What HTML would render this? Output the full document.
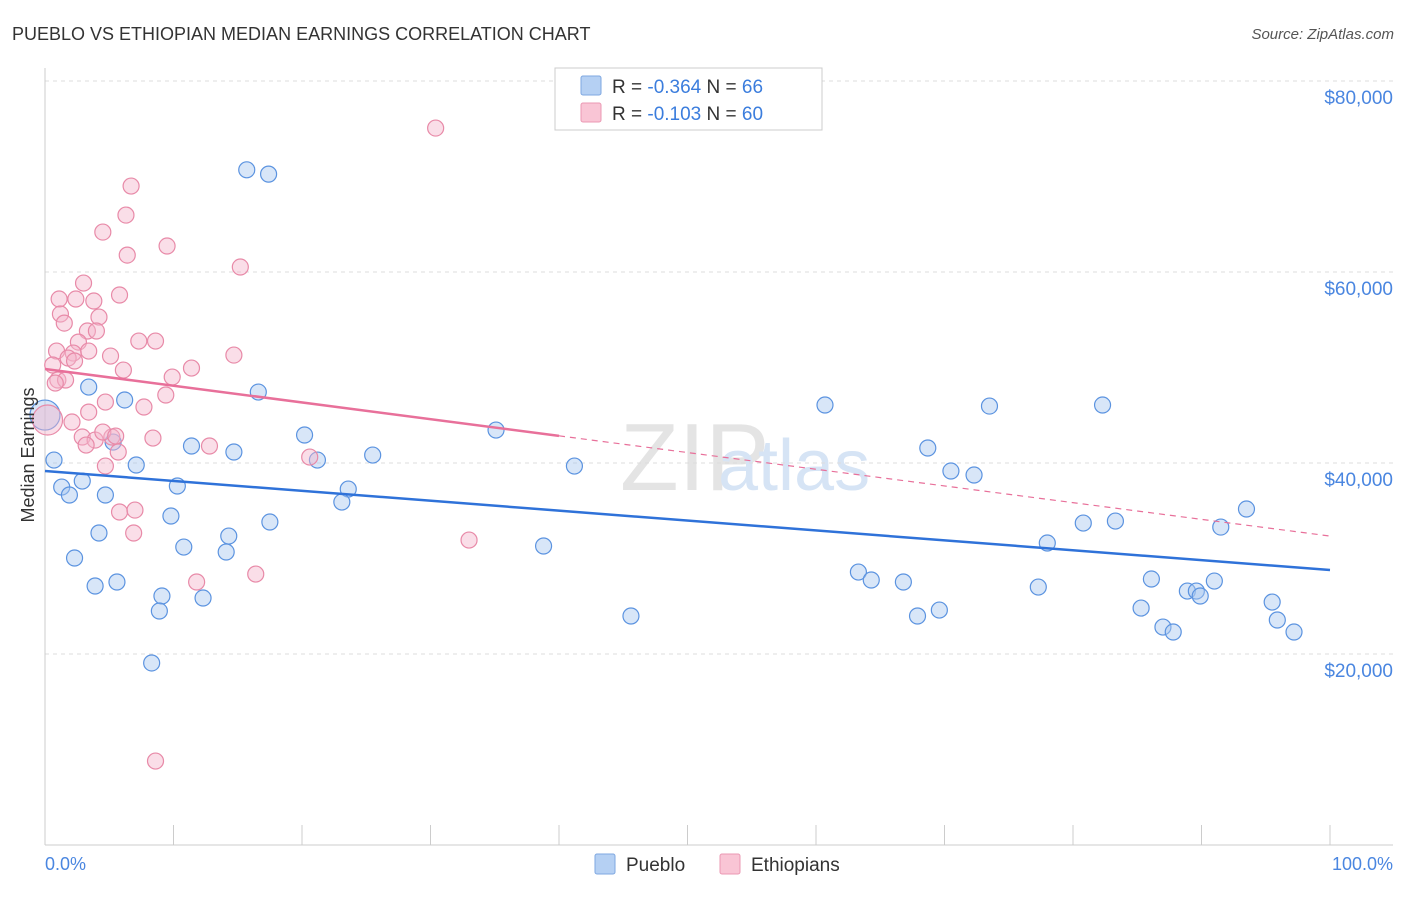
<!DOCTYPE html>
<html><head><meta charset="utf-8"><style>
body{margin:0;background:#fff;font-family:"Liberation Sans",sans-serif;}
svg text{font-family:"Liberation Sans",sans-serif;}
</style></head><body>
<svg id="c" width="1406" height="892">
<text x="12" y="40" font-size="18" fill="#333">PUEBLO VS ETHIOPIAN MEDIAN EARNINGS CORRELATION CHART</text>
<text x="1394" y="39" font-size="15" fill="#555" text-anchor="end" font-style="italic">Source: ZipAtlas.com</text>
<text x="620" y="490" font-size="96" fill="#e4e4e4" font-family="Liberation Serif">ZIP</text>
<text x="718" y="490" font-size="72" fill="#d6e4f5">atlas</text>
<g id="grid"></g>
<g id="pts"></g>
<g id="trend"></g>
<text transform="translate(34,455) rotate(-90)" font-size="18" fill="#333" text-anchor="middle">Median Earnings</text>
<text x="45" y="870" font-size="18" fill="#4a86e0">0.0%</text>
<text x="1393" y="870" font-size="18" fill="#4a86e0" text-anchor="end">100.0%</text>
<g>
<rect x="555" y="68" width="267" height="62" fill="#fff" stroke="#ccc"/>
<rect x="581" y="76" width="20" height="19" fill="#b5d0f3" stroke="#7ea7e0" rx="2"/>
<rect x="581" y="103" width="20" height="19" fill="#f9c5d5" stroke="#eb98b3" rx="2"/>
<text x="612" y="93" font-size="19" fill="#333">R = <tspan fill="#3b7ddd">-0.364</tspan>   N = <tspan fill="#3b7ddd">66</tspan></text>
<text x="612" y="120" font-size="19" fill="#333">R =  <tspan fill="#3b7ddd">-0.103</tspan>   N = <tspan fill="#3b7ddd">60</tspan></text>
</g>
<g>
<rect x="595" y="854" width="20" height="20" fill="#b5d0f3" stroke="#7ea7e0" rx="2"/>
<text x="626" y="871" font-size="19" fill="#333">Pueblo</text>
<rect x="720" y="854" width="20" height="20" fill="#f9c5d5" stroke="#eb98b3" rx="2"/>
<text x="751" y="871" font-size="19" fill="#333">Ethiopians</text>
</g>
</svg>
<script>
const yTicks=[20000,40000,60000,80000];
const yTickLabels=["$20,000","$40,000","$60,000","$80,000"];
const xTicks=[0,10,20,30,40,50,60,70,80,90,100];
const puebloX=[15.7,17.4,3.4,6.2,16.6,0.7,1.3,1.9,2.9,4.7,5.3,7.1,11.4,14.7,10.3,9.8,4.2,2.3,10.8,14.3,14.1,17.5,20.2,21.2,23.6,23.1,25.5,35.1,41.2,38.8,3.9,5.6,9.1,8.9,12.3,8.3,45.6,60.7,73.5,82.3,68.7,70.5,72.3,63.3,64.3,66.8,67.9,69.6,78.0,80.8,83.3,77.3,86.1,85.3,87.0,87.8,88.9,89.6,89.9,91.0,91.5,93.5,95.5,95.9,97.2];
const puebloY=[70700,70250,47950,46600,47430,40310,37480,36650,38110,36650,42190,39790,41780,41150,37590,34450,32670,30050,31200,32350,30680,33820,42930,40310,37270,35910,40830,43450,39680,31310,27120,27540,26070,24500,25860,19060,23980,46070,45960,46070,41570,39160,38740,28580,27750,27540,23980,24600,31620,33710,33920,27010,27850,24810,22820,22300,26590,26590,26070,27640,33290,35180,25440,23560,22300];
const ethX=[30.4,6.7,6.3,4.5,6.4,9.5,15.2,3.0,1.1,2.4,3.8,5.8,1.2,4.2,1.5,3.3,4.0,2.6,7.3,8.6,0.9,2.2,3.4,5.1,14.7,1.8,0.6,6.1,11.4,9.9,1.0,1.6,7.7,9.4,3.4,4.7,2.1,2.9,3.9,5.2,8.4,12.8,3.2,5.7,4.5,4.7,20.6,5.8,7.0,6.9,33.0,11.8,16.4,8.6,0.8,5.5,2.3];
const ethY=[75070,69000,65960,64180,61770,62720,60520,58840,57170,57170,56960,57590,55600,55280,54650,53820,53820,52660,52770,52770,51720,51510,51720,51200,51300,50990,50260,49730,49940,49000,48690,48690,45860,47120,45330,46380,44290,42720,42400,42720,42610,41780,41880,41150,43240,39680,40620,34870,35070,32670,31930,27540,28370,8790,48370,42820,50680];
const bigPueblo=[0,45020];
const bigEth=[0.2,44500];
const puebloTrend=[39160,28790];
const ethTrend=[49840,32350];
const ethSolidEnd=40;
const NS="http://www.w3.org/2000/svg";
const sx=v=>45+v*12.85;
const sy=v=>845-v*191/20000;
function mk(tag,attrs,parent){const e=document.createElementNS(NS,tag);for(const k in attrs)e.setAttribute(k,attrs[k]);document.getElementById(parent).appendChild(e);return e;}
yTicks.forEach((t,i)=>{
 const l=mk('line',{x1:45,x2:1393,y1:sy(t),y2:sy(t),stroke:'#ddd','stroke-dasharray':'4,4'},'grid');
 
 
 const tx=mk('text',{x:1393,y:sy(t)+23,'font-size':19,fill:'#4a86e0','text-anchor':'end'},'grid');
 tx.textContent=yTickLabels[i];
 
 
});
const ax=mk('line',{x1:45,x2:45,y1:68,y2:845,stroke:'#ccc'},'grid');


const bx=mk('line',{x1:45,x2:1393,y1:845,y2:845,stroke:'#ccc'},'grid');


xTicks.forEach(t=>{
 const l=mk('line',{x1:sx(t),x2:sx(t),y1:825,y2:845,stroke:'#ccc'},'grid');
 
 
});
function dot(x,y,r,fill,stroke,name){
 const c=mk('circle',{cx:sx(x),cy:sy(y),r:r,fill:fill,'fill-opacity':0.45,stroke:stroke,'stroke-width':1.2},'pts');
 
 
}
puebloX.forEach((x,i)=>dot(x,puebloY[i],8,'#a9c8ef','#5b93e0','pueblo-point'));
ethX.forEach((x,i)=>dot(x,ethY[i],8,'#f5b6cb','#e88aa8','ethiopian-point'));
dot(bigPueblo[0],bigPueblo[1],15,'#a9c8ef','#5b93e0','pueblo-point');
dot(bigEth[0],bigEth[1],15,'#f5b6cb','#e88aa8','ethiopian-point');
const bt=mk('line',{x1:sx(0),y1:sy(puebloTrend[0]),x2:sx(100),y2:sy(puebloTrend[1]),stroke:'#2f72d9','stroke-width':2.5},'trend');


const ey=x=>ethTrend[0]+(ethTrend[1]-ethTrend[0])*x/100;
const pt=mk('line',{x1:sx(0),y1:sy(ethTrend[0]),x2:sx(ethSolidEnd),y2:sy(ey(ethSolidEnd)),stroke:'#e8709a','stroke-width':2.5},'trend');


const pd=mk('line',{x1:sx(ethSolidEnd),y1:sy(ey(ethSolidEnd)),x2:sx(100),y2:sy(ethTrend[1]),stroke:'#e8709a','stroke-width':1.2,'stroke-dasharray':'6,5'},'trend');


</script>
</body></html>
